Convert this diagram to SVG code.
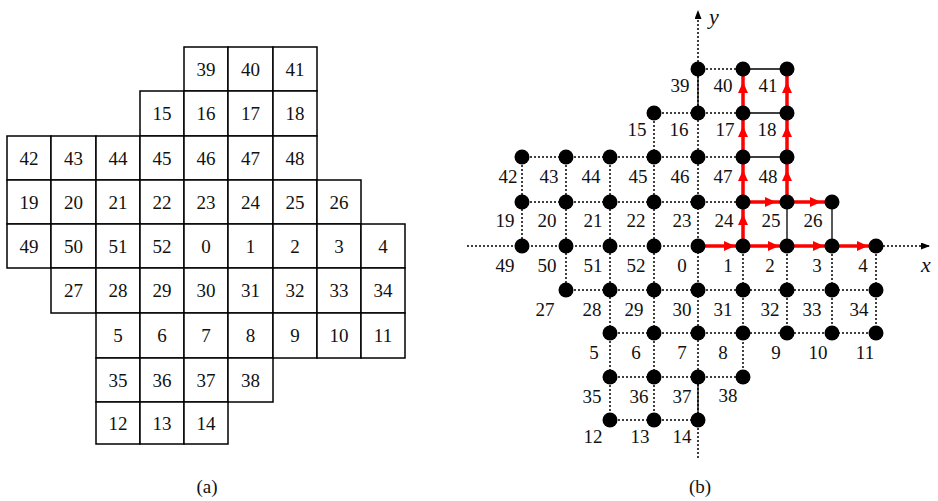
<svg xmlns="http://www.w3.org/2000/svg" width="938" height="501" viewBox="0 0 938 501">
<style>
.cell{fill:#fff;stroke:#000;stroke-width:1.5}
.t{font-family:"Liberation Serif","Times New Roman",serif;font-size:19px;fill:#111;text-anchor:middle}
.ax{font-family:"Liberation Serif","Times New Roman",serif;font-size:22px;font-style:italic;fill:#111;text-anchor:middle}
.dot{stroke:#000;stroke-width:1.5;stroke-dasharray:2 2;fill:none}
.sol{stroke:#000;stroke-width:1.3;fill:none}
.red{stroke:#f00;stroke-width:3.5;fill:none;marker-mid:url(#rh)}
.nd{fill:#000}
</style>
<defs>
<marker id="rh" viewBox="0 0 11 10" refX="11" refY="5" markerWidth="11" markerHeight="10" markerUnits="userSpaceOnUse" orient="auto"><path d="M0,0 L11,5 L0,10 z" fill="#f00"/></marker>
<marker id="ah" viewBox="0 0 9 7" refX="9" refY="3.5" markerWidth="9" markerHeight="7" markerUnits="userSpaceOnUse" orient="auto"><path d="M0,0 L9,3.5 L0,7 z" fill="#000"/></marker>
</defs>
<rect width="938" height="501" fill="#fff"/>
<g id="grid-a">
<g id="a39"><rect class="cell" x="184" y="47" width="44" height="44"/><text class="t" x="206" y="75.5">39</text></g>
<g id="a40"><rect class="cell" x="228" y="47" width="45" height="44"/><text class="t" x="250.5" y="75.5">40</text></g>
<g id="a41"><rect class="cell" x="273" y="47" width="44" height="44"/><text class="t" x="295" y="75.5">41</text></g>
<g id="a15"><rect class="cell" x="140" y="91" width="44" height="45"/><text class="t" x="162" y="120">15</text></g>
<g id="a16"><rect class="cell" x="184" y="91" width="44" height="45"/><text class="t" x="206" y="120">16</text></g>
<g id="a17"><rect class="cell" x="228" y="91" width="45" height="45"/><text class="t" x="250.5" y="120">17</text></g>
<g id="a18"><rect class="cell" x="273" y="91" width="44" height="45"/><text class="t" x="295" y="120">18</text></g>
<g id="a42"><rect class="cell" x="7" y="136" width="44" height="44"/><text class="t" x="29" y="164.5">42</text></g>
<g id="a43"><rect class="cell" x="51" y="136" width="45" height="44"/><text class="t" x="73.5" y="164.5">43</text></g>
<g id="a44"><rect class="cell" x="96" y="136" width="44" height="44"/><text class="t" x="118" y="164.5">44</text></g>
<g id="a45"><rect class="cell" x="140" y="136" width="44" height="44"/><text class="t" x="162" y="164.5">45</text></g>
<g id="a46"><rect class="cell" x="184" y="136" width="44" height="44"/><text class="t" x="206" y="164.5">46</text></g>
<g id="a47"><rect class="cell" x="228" y="136" width="45" height="44"/><text class="t" x="250.5" y="164.5">47</text></g>
<g id="a48"><rect class="cell" x="273" y="136" width="44" height="44"/><text class="t" x="295" y="164.5">48</text></g>
<g id="a19"><rect class="cell" x="7" y="180" width="44" height="44"/><text class="t" x="29" y="208.5">19</text></g>
<g id="a20"><rect class="cell" x="51" y="180" width="45" height="44"/><text class="t" x="73.5" y="208.5">20</text></g>
<g id="a21"><rect class="cell" x="96" y="180" width="44" height="44"/><text class="t" x="118" y="208.5">21</text></g>
<g id="a22"><rect class="cell" x="140" y="180" width="44" height="44"/><text class="t" x="162" y="208.5">22</text></g>
<g id="a23"><rect class="cell" x="184" y="180" width="44" height="44"/><text class="t" x="206" y="208.5">23</text></g>
<g id="a24"><rect class="cell" x="228" y="180" width="45" height="44"/><text class="t" x="250.5" y="208.5">24</text></g>
<g id="a25"><rect class="cell" x="273" y="180" width="44" height="44"/><text class="t" x="295" y="208.5">25</text></g>
<g id="a26"><rect class="cell" x="317" y="180" width="44" height="44"/><text class="t" x="339" y="208.5">26</text></g>
<g id="a49"><rect class="cell" x="7" y="224" width="44" height="44"/><text class="t" x="29" y="252.5">49</text></g>
<g id="a50"><rect class="cell" x="51" y="224" width="45" height="44"/><text class="t" x="73.5" y="252.5">50</text></g>
<g id="a51"><rect class="cell" x="96" y="224" width="44" height="44"/><text class="t" x="118" y="252.5">51</text></g>
<g id="a52"><rect class="cell" x="140" y="224" width="44" height="44"/><text class="t" x="162" y="252.5">52</text></g>
<g id="a0"><rect class="cell" x="184" y="224" width="44" height="44"/><text class="t" x="206" y="252.5">0</text></g>
<g id="a1"><rect class="cell" x="228" y="224" width="45" height="44"/><text class="t" x="250.5" y="252.5">1</text></g>
<g id="a2"><rect class="cell" x="273" y="224" width="44" height="44"/><text class="t" x="295" y="252.5">2</text></g>
<g id="a3"><rect class="cell" x="317" y="224" width="44" height="44"/><text class="t" x="339" y="252.5">3</text></g>
<g id="a4"><rect class="cell" x="361" y="224" width="44" height="44"/><text class="t" x="383" y="252.5">4</text></g>
<g id="a27"><rect class="cell" x="51" y="268" width="45" height="45"/><text class="t" x="73.5" y="297">27</text></g>
<g id="a28"><rect class="cell" x="96" y="268" width="44" height="45"/><text class="t" x="118" y="297">28</text></g>
<g id="a29"><rect class="cell" x="140" y="268" width="44" height="45"/><text class="t" x="162" y="297">29</text></g>
<g id="a30"><rect class="cell" x="184" y="268" width="44" height="45"/><text class="t" x="206" y="297">30</text></g>
<g id="a31"><rect class="cell" x="228" y="268" width="45" height="45"/><text class="t" x="250.5" y="297">31</text></g>
<g id="a32"><rect class="cell" x="273" y="268" width="44" height="45"/><text class="t" x="295" y="297">32</text></g>
<g id="a33"><rect class="cell" x="317" y="268" width="44" height="45"/><text class="t" x="339" y="297">33</text></g>
<g id="a34"><rect class="cell" x="361" y="268" width="44" height="45"/><text class="t" x="383" y="297">34</text></g>
<g id="a5"><rect class="cell" x="96" y="313" width="44" height="45"/><text class="t" x="118" y="342">5</text></g>
<g id="a6"><rect class="cell" x="140" y="313" width="44" height="45"/><text class="t" x="162" y="342">6</text></g>
<g id="a7"><rect class="cell" x="184" y="313" width="44" height="45"/><text class="t" x="206" y="342">7</text></g>
<g id="a8"><rect class="cell" x="228" y="313" width="45" height="45"/><text class="t" x="250.5" y="342">8</text></g>
<g id="a9"><rect class="cell" x="273" y="313" width="44" height="45"/><text class="t" x="295" y="342">9</text></g>
<g id="a10"><rect class="cell" x="317" y="313" width="44" height="45"/><text class="t" x="339" y="342">10</text></g>
<g id="a11"><rect class="cell" x="361" y="313" width="44" height="45"/><text class="t" x="383" y="342">11</text></g>
<g id="a35"><rect class="cell" x="96" y="358" width="44" height="44"/><text class="t" x="118" y="386.5">35</text></g>
<g id="a36"><rect class="cell" x="140" y="358" width="44" height="44"/><text class="t" x="162" y="386.5">36</text></g>
<g id="a37"><rect class="cell" x="184" y="358" width="44" height="44"/><text class="t" x="206" y="386.5">37</text></g>
<g id="a38"><rect class="cell" x="228" y="358" width="45" height="44"/><text class="t" x="250.5" y="386.5">38</text></g>
<g id="a12"><rect class="cell" x="96" y="402" width="44" height="42"/><text class="t" x="118" y="429.5">12</text></g>
<g id="a13"><rect class="cell" x="140" y="402" width="44" height="42"/><text class="t" x="162" y="429.5">13</text></g>
<g id="a14"><rect class="cell" x="184" y="402" width="44" height="42"/><text class="t" x="206" y="429.5">14</text></g>
</g>
<text class="t" x="207" y="493">(a)</text>

<g id="connectors">
<g id="dotted">
<path class="dot" d="M698,458 V10" marker-end="url(#ah)"/>
<path class="dot" d="M467,246 H930" marker-end="url(#ah)"/>
<path class="dot" d="M698,69 H743 M654,113 H743 M522,157 H743 M522,202 H743 M566,290 H876 M610,333 H876 M610,377 H743 M610,420 H698"/>
<path class="dot" d="M522,157 V246 M566,157 V290 M610,157 V420 M654,113 V420 M743,246 V377 M787,246 V333 M832,246 V333 M876,246 V333"/>
</g>
<g id="solid">
<path class="sol" d="M743,69 H787 M743,113 H787 M743,157 H787 M698,69 V113 M787,202 V246 M832,202 V246 M698,377 V420"/>
</g>
<g id="path-red">
<path class="red" d="M698,246 L735,246 L743,246"/>
<path class="red" d="M743,246 L779,246 L787,246"/>
<path class="red" d="M787,246 L824,246 L832,246"/>
<path class="red" d="M832,246 L868,246 L876,246"/>
<path class="red" d="M743,246 L743,214 L743,202"/>
<path class="red" d="M743,202 L743,170 L743,157"/>
<path class="red" d="M743,157 L743,126 L743,113"/>
<path class="red" d="M743,113 L743,82 L743,69"/>
<path class="red" d="M743,202 L776,202 L787,202"/>
<path class="red" d="M787,202 L821,202 L832,202"/>
<path class="red" d="M787,202 L787,170 L787,157"/>
<path class="red" d="M787,157 L787,126 L787,113"/>
<path class="red" d="M787,113 L787,82 L787,69"/>
</g>
</g>

<g id="nodes-b">
<g id="b39"><circle class="nd" cx="698" cy="69" r="7.5"/><text class="t" x="680" y="91.5">39</text></g>
<g id="b40"><circle class="nd" cx="743" cy="69" r="7.5"/><text class="t" x="723" y="91.5">40</text></g>
<g id="b41"><circle class="nd" cx="787" cy="69" r="7.5"/><text class="t" x="768" y="91.5">41</text></g>
<g id="b15"><circle class="nd" cx="654" cy="113" r="7.5"/><text class="t" x="637" y="135.5">15</text></g>
<g id="b16"><circle class="nd" cx="698" cy="113" r="7.5"/><text class="t" x="679" y="135.5">16</text></g>
<g id="b17"><circle class="nd" cx="743" cy="113" r="7.5"/><text class="t" x="725" y="135.5">17</text></g>
<g id="b18"><circle class="nd" cx="787" cy="113" r="7.5"/><text class="t" x="767" y="135.5">18</text></g>
<g id="b42"><circle class="nd" cx="522" cy="157" r="7.5"/><text class="t" x="508" y="182.5">42</text></g>
<g id="b43"><circle class="nd" cx="566" cy="157" r="7.5"/><text class="t" x="549" y="182.5">43</text></g>
<g id="b44"><circle class="nd" cx="610" cy="157" r="7.5"/><text class="t" x="591" y="182.5">44</text></g>
<g id="b45"><circle class="nd" cx="654" cy="157" r="7.5"/><text class="t" x="638" y="182.5">45</text></g>
<g id="b46"><circle class="nd" cx="698" cy="157" r="7.5"/><text class="t" x="680" y="182.5">46</text></g>
<g id="b47"><circle class="nd" cx="743" cy="157" r="7.5"/><text class="t" x="723" y="182.5">47</text></g>
<g id="b48"><circle class="nd" cx="787" cy="157" r="7.5"/><text class="t" x="768" y="182.5">48</text></g>
<g id="b19"><circle class="nd" cx="522" cy="202" r="7.5"/><text class="t" x="505" y="226.5">19</text></g>
<g id="b20"><circle class="nd" cx="566" cy="202" r="7.5"/><text class="t" x="547" y="226.5">20</text></g>
<g id="b21"><circle class="nd" cx="610" cy="202" r="7.5"/><text class="t" x="593" y="226.5">21</text></g>
<g id="b22"><circle class="nd" cx="654" cy="202" r="7.5"/><text class="t" x="636" y="226.5">22</text></g>
<g id="b23"><circle class="nd" cx="698" cy="202" r="7.5"/><text class="t" x="682" y="226.5">23</text></g>
<g id="b24"><circle class="nd" cx="743" cy="202" r="7.5"/><text class="t" x="724" y="226.5">24</text></g>
<g id="b25"><circle class="nd" cx="787" cy="202" r="7.5"/><text class="t" x="771" y="226.5">25</text></g>
<g id="b26"><circle class="nd" cx="832" cy="202" r="7.5"/><text class="t" x="813" y="226.5">26</text></g>
<g id="b49"><circle class="nd" cx="522" cy="246" r="7.5"/><text class="t" x="505" y="271.5">49</text></g>
<g id="b50"><circle class="nd" cx="566" cy="246" r="7.5"/><text class="t" x="547" y="271.5">50</text></g>
<g id="b51"><circle class="nd" cx="610" cy="246" r="7.5"/><text class="t" x="593" y="271.5">51</text></g>
<g id="b52"><circle class="nd" cx="654" cy="246" r="7.5"/><text class="t" x="636" y="271.5">52</text></g>
<g id="b0"><circle class="nd" cx="698" cy="246" r="7.5"/><text class="t" x="682" y="271.5">0</text></g>
<g id="b1"><circle class="nd" cx="743" cy="246" r="7.5"/><text class="t" x="728" y="271.5">1</text></g>
<g id="b2"><circle class="nd" cx="787" cy="246" r="7.5"/><text class="t" x="770" y="271.5">2</text></g>
<g id="b3"><circle class="nd" cx="832" cy="246" r="7.5"/><text class="t" x="817" y="271.5">3</text></g>
<g id="b4"><circle class="nd" cx="876" cy="246" r="7.5"/><text class="t" x="863" y="271.5">4</text></g>
<g id="b27"><circle class="nd" cx="566" cy="290" r="7.5"/><text class="t" x="545" y="315.5">27</text></g>
<g id="b28"><circle class="nd" cx="610" cy="290" r="7.5"/><text class="t" x="592" y="315.5">28</text></g>
<g id="b29"><circle class="nd" cx="654" cy="290" r="7.5"/><text class="t" x="634" y="315.5">29</text></g>
<g id="b30"><circle class="nd" cx="698" cy="290" r="7.5"/><text class="t" x="682" y="315.5">30</text></g>
<g id="b31"><circle class="nd" cx="743" cy="290" r="7.5"/><text class="t" x="723" y="315.5">31</text></g>
<g id="b32"><circle class="nd" cx="787" cy="290" r="7.5"/><text class="t" x="770" y="315.5">32</text></g>
<g id="b33"><circle class="nd" cx="832" cy="290" r="7.5"/><text class="t" x="812" y="315.5">33</text></g>
<g id="b34"><circle class="nd" cx="876" cy="290" r="7.5"/><text class="t" x="859" y="315.5">34</text></g>
<g id="b5"><circle class="nd" cx="610" cy="333" r="7.5"/><text class="t" x="594" y="358.5">5</text></g>
<g id="b6"><circle class="nd" cx="654" cy="333" r="7.5"/><text class="t" x="636" y="358.5">6</text></g>
<g id="b7"><circle class="nd" cx="698" cy="333" r="7.5"/><text class="t" x="682" y="358.5">7</text></g>
<g id="b8"><circle class="nd" cx="743" cy="333" r="7.5"/><text class="t" x="723" y="358.5">8</text></g>
<g id="b9"><circle class="nd" cx="787" cy="333" r="7.5"/><text class="t" x="776" y="358.5">9</text></g>
<g id="b10"><circle class="nd" cx="832" cy="333" r="7.5"/><text class="t" x="818" y="358.5">10</text></g>
<g id="b11"><circle class="nd" cx="876" cy="333" r="7.5"/><text class="t" x="865" y="358.5">11</text></g>
<g id="b35"><circle class="nd" cx="610" cy="377" r="7.5"/><text class="t" x="592" y="402.5">35</text></g>
<g id="b36"><circle class="nd" cx="654" cy="377" r="7.5"/><text class="t" x="639" y="402.5">36</text></g>
<g id="b37"><circle class="nd" cx="698" cy="377" r="7.5"/><text class="t" x="682" y="402.5">37</text></g>
<g id="b38"><circle class="nd" cx="743" cy="377" r="7.5"/><text class="t" x="728" y="401.5">38</text></g>
<g id="b12"><circle class="nd" cx="610" cy="420" r="7.5"/><text class="t" x="593" y="442.5">12</text></g>
<g id="b13"><circle class="nd" cx="654" cy="420" r="7.5"/><text class="t" x="640" y="442.5">13</text></g>
<g id="b14"><circle class="nd" cx="698" cy="420" r="7.5"/><text class="t" x="682" y="442.5">14</text></g>
</g>
<text class="ax" x="714" y="24">y</text>
<text class="ax" x="926" y="272">x</text>
<text class="t" x="700" y="493">(b)</text>
</svg>
